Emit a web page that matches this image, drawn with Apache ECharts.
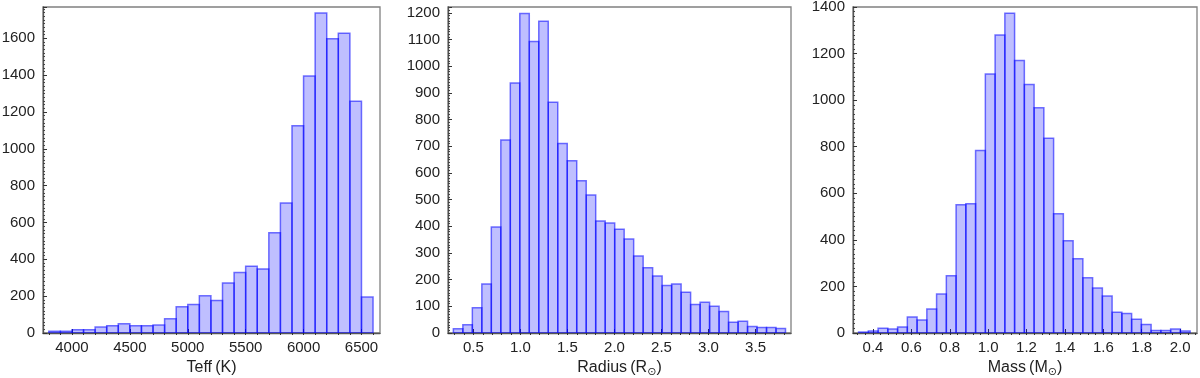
<!DOCTYPE html>
<html>
<head>
<meta charset="utf-8">
<script src="https://cdn.jsdelivr.net/npm/echarts@6/dist/echarts.min.js"></script>
<style>html,body{margin:0;padding:0;background:#fff;}#c{width:1200px;height:378px;}</style>
</head>
<body>
<div id="c"></div>
<script>
// ---- Data ----
const teffBinStart = 3800, teffBinWidth = 100;
const teffCounts = [10,10,18,18,32,40,50,40,40,43,77,142,155,202,177,272,328,362,348,544,706,1125,1395,1738,1597,1628,1258,195];
const teffTicks = [4000,4500,5000,5500,6000,6500];

const radiusBinStart = 0.287, radiusBinWidth = 0.1009;
const radiusCounts = [16,31,95,184,397,723,937,1198,1093,1169,865,710,646,571,517,420,412,389,352,289,245,214,178,184,153,107,115,100,81,40,44,24,21,21,17];
const radiusTicks = [0.5,1.0,1.5,2.0,2.5,3.0,3.5];

const massBinStart = 0.325, massBinWidth = 0.0508;
const massCounts = [4,9,20,17,26,69,56,103,167,246,551,555,784,1112,1280,1373,1170,1067,967,836,512,396,319,237,193,159,89,84,59,37,11,11,17,9];
const massTicks = [0.4,0.6,0.8,1.0,1.2,1.4,1.6,1.8,2.0];

// ---- Build ----
function bins(start, width, counts){
  return counts.map((c,i)=>[start+i*width, start+(i+1)*width, c]);
}
function minorList(min, max, step){
  const out=[]; const s=Math.ceil(min/step-1e-9);
  for(let k=s; k*step<=max+1e-9; k++){ out.push(+(k*step).toFixed(6)); }
  return out;
}
function renderItem(params, api){
  const p0 = api.coord([api.value(0), api.value(2)]);
  const p1 = api.coord([api.value(1), 0]);
  return {type:'rect', shape:{x:p0[0], y:p0[1], width:p1[0]-p0[0], height:p1[1]-p0[1]},
    style:{fill:'rgba(0,0,255,0.25)', stroke:'rgba(0,0,255,0.55)', lineWidth:1.5}};
}
const font = 'Liberation Sans';
const panels = [
  {grid:{left:43,right:820}, xmin:3750, xmax:6660, ticks:teffTicks, minor:100, fmt:v=>String(v),
   ymax:1770, yint:200, showMax:false, name:'Teff\u2009(K)', data:bins(teffBinStart,teffBinWidth,teffCounts)},
  {grid:{left:448,right:409}, xmin:0.23, xmax:3.877, ticks:radiusTicks, minor:0.1, fmt:v=>v.toFixed(1),
   ymax:1222, yint:100, showMax:false, name:'Radius\u2009(R{s|⊙})', data:bins(radiusBinStart,radiusBinWidth,radiusCounts)},
  {grid:{left:853,right:3}, xmin:0.296, xmax:2.088, ticks:massTicks, minor:0.04, fmt:v=>v.toFixed(1),
   ymax:1400, yint:200, showMax:true, name:'Mass\u2009(M{s|⊙})', data:bins(massBinStart,massBinWidth,massCounts)}
];
const option = {animation:false, grid:[], xAxis:[], yAxis:[], series:[]};
panels.forEach((p,i)=>{
  option.grid.push({left:p.grid.left, right:p.grid.right, top:7, bottom:45, show:true, borderColor:'#808080', borderWidth:1.3,
    containLabel:false, outerBoundsMode:'none'});
  option.xAxis.push({type:'value', gridIndex:i, min:p.xmin, max:p.xmax,
    name:p.name, nameLocation:'middle', nameGap:25,
    nameTextStyle:{fontFamily:font, fontSize:16, color:'#222', rich:{s:{fontFamily:'DejaVu Sans', fontSize:11, color:'#222', padding:[9,0,0,0]}}},
    axisLine:{show:true, onZero:false, lineStyle:{color:'#555', width:1.3}},
    axisTick:{show:true, inside:true, length:4, customValues:p.ticks, lineStyle:{color:'#333'}},
    axisLabel:{show:true, customValues:p.ticks, formatter:p.fmt, fontFamily:font, fontSize:15, color:'#222', margin:7},
    splitLine:{show:false}});
  option.xAxis.push({type:'value', gridIndex:i, min:p.xmin, max:p.xmax,
    axisLine:{show:false}, axisLabel:{show:false}, splitLine:{show:false},
    axisTick:{show:true, inside:true, length:2, customValues:minorList(p.xmin,p.xmax,p.minor), lineStyle:{color:'#333'}}});
  option.yAxis.push({type:'value', gridIndex:i, min:0, max:p.ymax, interval:p.yint,
    axisLine:{show:true, lineStyle:{color:'#555', width:1.3}},
    axisTick:{show:true, inside:true, length:4, lineStyle:{color:'#333'}},
    minorTick:{show:true, splitNumber:10, length:2, lineStyle:{color:'#444'}},
    axisLabel:{fontFamily:font, fontSize:15, color:'#222', margin:8, showMaxLabel:p.showMax, formatter:v=>String(v)},
    splitLine:{show:false}});
  option.series.push({type:'custom', xAxisIndex:2*i, yAxisIndex:i, renderItem:renderItem,
    encode:{x:[0,1], y:2}, data:p.data, clip:true});
});
const chart = echarts.init(document.getElementById('c'), null, {renderer:'canvas'});
chart.setOption(option);
</script>
</body>
</html>
